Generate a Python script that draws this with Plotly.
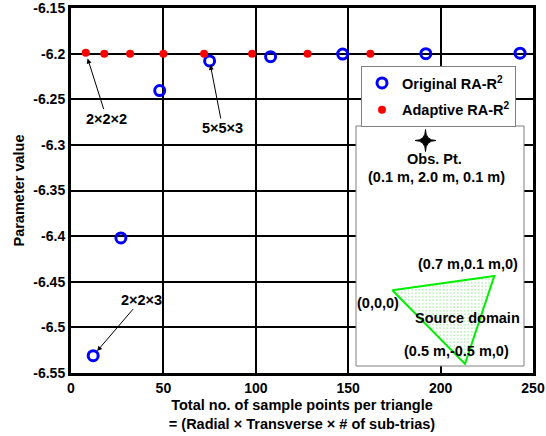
import plotly.graph_objects as go

# ---- data ----
orig_x = [12, 27, 48, 75, 108, 147, 192, 243]
orig_y = [-6.531, -6.402, -6.2405, -6.208, -6.2033, -6.2005, -6.2, -6.1995]
adapt_x = [8, 18, 32, 50, 72, 98, 128, 162]
adapt_y = [-6.199, -6.2, -6.2, -6.2, -6.2, -6.2, -6.2, -6.2]
y_ticks = [-6.15, -6.2, -6.25, -6.3, -6.35, -6.4, -6.45, -6.5, -6.55]
x_ticks = [0, 50, 100, 150, 200, 250]

# plot area geometry (pixels)
L, R, T, B = 71, 533, 8, 373
W, H = 546, 436


def pu(px):
    return (px - L) / (R - L)


def pv(py):
    return (B - py) / (B - T)


FAM = "Liberation Sans, Arial, sans-serif"
FONT = dict(family=FAM, size=14.5, color="black", weight="bold")
TICKFONT = dict(family=FAM, size=14, color="black", weight="bold")

fig = go.Figure()

fig.add_trace(go.Scatter(
    x=orig_x, y=orig_y, mode="markers", name="Original RA-R<sup>2</sup>",
    marker=dict(symbol="circle-open", size=10, color="#0000ff", line=dict(width=3, color="#0000ff")),
    legendgroup="a",
))
fig.add_trace(go.Scatter(
    x=adapt_x, y=adapt_y, mode="markers", name="Adaptive RA-R<sup>2</sup>",
    marker=dict(symbol="circle", size=8, color="#ff0000"),
    legendgroup="b",
))

# inset box (white) and source triangle on an overlay axis spanning the plot area
box = [(356, 126), (524, 126), (524, 366), (356, 366), (356, 126)]
fig.add_trace(go.Scatter(
    x=[pu(p[0]) for p in box], y=[pv(p[1]) for p in box],
    xaxis="x2", yaxis="y2", mode="lines", fill="toself", fillcolor="white",
    line=dict(color="#808080", width=1), showlegend=False, hoverinfo="skip",
))
tri = [(392.3, 290.3), (494.3, 276), (465, 364), (392.3, 290.3)]
fig.add_trace(go.Scatter(
    x=[pu(p[0]) for p in tri], y=[pv(p[1]) for p in tri],
    xaxis="x2", yaxis="y2", mode="lines", fill="toself",
    fillpattern=dict(shape=".", fgcolor="#55e055", bgcolor="white", size=3.5, solidity=0.2),
    line=dict(color="#00ee00", width=2), showlegend=False, hoverinfo="skip",
))

# star (observation point)
cx, cy, rx, ry = 425.5, 140.5, 10.5, 11
sp = [(cx, cy - ry), (cx + rx, cy), (cx, cy + ry), (cx - rx, cy)]
path = f"M {pu(sp[0][0])},{pv(sp[0][1])} "
for i in range(1, 5):
    q = sp[i % 4]
    path += f"Q {pu(cx)},{pv(cy)} {pu(q[0])},{pv(q[1])} "
path += "Z"
fig.add_shape(type="path", path=path, xref="paper", yref="paper",
              fillcolor="black", line=dict(color="black", width=1), layer="above")

# inset texts
texts = [
    ("Obs. Pt.", 434.5, 159),
    ("(0.1 m, 2.0 m, 0.1 m)", 436, 177),
    ("(0.7 m,0.1 m,0)", 468, 264.3),
    ("(0,0,0)", 378, 303.3),
    ("Source domain", 467.8, 318.3),
    ("(0.5 m,-0.5 m,0)", 456.3, 350.7),
]
for t, x, y in texts:
    fig.add_annotation(text=t, x=pu(x), y=pv(y), xref="paper", yref="paper",
                       showarrow=False, font=FONT, xanchor="center", yanchor="middle")

# arrow annotations
arrows = [
    ("2×2×2", adapt_x[0], adapt_y[0], 21, 66, 6),
    ("5×5×3", orig_x[3], orig_y[3], 13, 67, 4),
    ("2×2×3", orig_x[0], orig_y[0], 48, -56, 6),
]
for t, x, y, ax, ay, so in arrows:
    fig.add_annotation(text=t, x=x, y=y, ax=ax, ay=ay, showarrow=True,
                       arrowhead=2, arrowsize=1, arrowwidth=1, arrowcolor="black",
                       standoff=so, font=FONT)

fig.update_layout(
    width=W, height=H,
    margin=dict(l=L, r=W - R, t=T, b=H - B),
    paper_bgcolor="white", plot_bgcolor="white",
    font=FONT,
    showlegend=True,
    legend=dict(x=pu(361), y=pv(66), xanchor="left", yanchor="top",
                bgcolor="white", bordercolor="#808080", borderwidth=1,
                font=FONT, tracegroupgap=5),
    xaxis=dict(range=[0, 250], tickvals=x_ticks, showgrid=True, gridcolor="black", gridwidth=2,
               zeroline=False, showline=True, linecolor="black", linewidth=3, mirror=True,
               ticks="", tickfont=TICKFONT, automargin=False, ticklabeloverflow="allow",
               title=dict(text="Total no. of sample points per triangle<br>= (Radial × Transverse × # of sub-trias)",
                          font=FONT, standoff=6)),
    yaxis=dict(range=[-6.55, -6.15], tickvals=y_ticks, ticktext=[f"{v:g}" for v in y_ticks],
               showgrid=True, gridcolor="black", gridwidth=2,
               zeroline=False, showline=True, linecolor="black", linewidth=3, mirror=True,
               ticks="", tickfont=TICKFONT, automargin=False, ticklabeloverflow="allow",
               title=dict(text="Parameter value", font=FONT, standoff=6)),
    xaxis2=dict(overlaying="x", range=[0, 1], visible=False, anchor="y2"),
    yaxis2=dict(overlaying="y", range=[0, 1], visible=False, anchor="x2"),
)

fig.write_html("out.html")
